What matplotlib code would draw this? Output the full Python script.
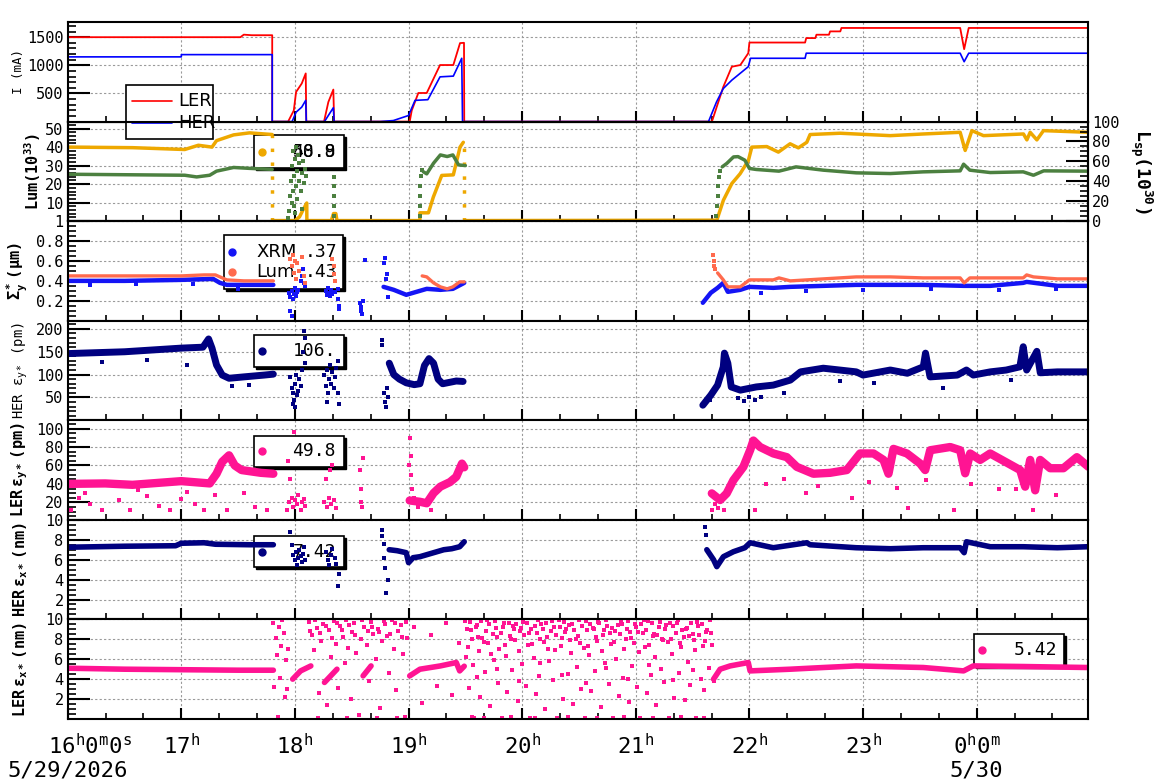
import matplotlib
matplotlib.use('Agg')
import matplotlib.pyplot as plt
import matplotlib.transforms as mtransforms
from matplotlib.patches import Rectangle
from matplotlib.ticker import FixedLocator, MultipleLocator

nan = float('nan')

# time axis in hours, 16.0 = 16:00 on 5/29
hour_ticks = [16, 17, 18, 19, 20, 21, 22, 23, 24]
hour_labels = ['$16^{h}0^{m}0^{s}$', '$17^{h}$', '$18^{h}$', '$19^{h}$', '$20^{h}$',
               '$21^{h}$', '$22^{h}$', '$23^{h}$', '$0^{h}0^{m}$']
date_ticks = [16, 24]
date_labels = ['5/29/2026', '5/30']

# panel 1 : beam currents (mA)
ler_t = [16.0, 17.52, 17.55, 17.62, 17.80, 17.80, 17.94, 17.99, 18.01, 18.06, 18.095, 18.10,
         18.256, 18.294, 18.338, 18.345, 19.01, 19.028, 19.086, 19.16, 19.277, 19.394, 19.453,
         19.488, 19.49, 21.67, 21.77, 21.845, 21.92, 21.99, 22.0, 22.49, 22.50, 22.58, 22.59,
         22.70, 22.71, 22.80, 22.81, 23.855, 23.89, 23.93, 24.98]
ler_i = [1500, 1500, 1545, 1535, 1535, 0, 0, 197, 526, 677, 856, 0,
         0, 347, 569, 0, 0, 197, 508, 508, 1005, 1005, 1395,
         1400, 0, 0, 616, 975, 1005, 1215, 1405, 1405, 1484, 1484, 1544,
         1544, 1603, 1603, 1664, 1664, 1287, 1664, 1664]
her_t = [16.0, 17.0, 17.0, 17.80, 17.80, 17.975, 18.01, 18.06, 18.095, 18.10, 18.26, 18.294,
         18.338, 18.345, 18.75, 18.866, 19.0, 19.057, 19.17, 19.277, 19.394, 19.468, 19.475, 21.64,
         21.71, 21.77, 21.845, 21.99, 22.01, 22.49, 22.50, 23.855, 23.89, 23.93, 24.98]
her_i = [1150, 1150, 1190, 1190, 0, 0, 167, 257, 377, 0, 0, 108,
         246, 0, 0, 18, 108, 377, 389, 795, 808, 1125, 0, 0,
         347, 587, 736, 975, 1125, 1125, 1215, 1215, 1064, 1215, 1215]

# panel 2 : luminosity (left, 1e33) and specific luminosity (right, 1e30)
lum_t = [16.0, 16.57, 17.03, 17.15, 17.27, 17.31, 17.46, 17.6, 17.8, nan, 17.8, 18.0, 18.04,
         18.07, 18.104, 18.105, 18.32, 18.34, 18.36, 18.37, 19.10, 19.10, 19.175, 19.218,
         19.292, 19.394, 19.453, 19.482, nan, 19.497, 21.713, 21.771, 21.845, 21.918, 21.991,
         22.021, 22.153, 22.255, 22.358, 22.431, 22.505, 22.534, 22.798, 23.239, 23.532,
         23.855, 23.899, 23.958, 24.06, 24.412, 24.442, 24.471, 24.53, 24.588, 24.984]
lum_v = [40.0, 39.7, 38.7, 41.0, 40.0, 43.5, 46.6, 47.7, 46.8, nan, 0.3, 0.3, 2.3,
         5.9, 9.8, 0.3, 0.3, 4.1, 4.1, 0.3, 0.3, 4.5, 4.5, 13.0,
         24.7, 25.0, 40.0, 42.6, nan, 0.3, 0.5, 11.3, 20.3, 25.6, 32.8,
         40.0, 40.3, 37.3, 41.8, 39.6, 42.6, 46.8, 47.5, 46.2, 47.1,
         48.0, 38.2, 48.9, 46.2, 47.1, 43.9, 48.0, 43.9, 48.9, 48.0]
lum_drop_t = [17.8, 19.49]
lum_drop_top = [46.8, 42.6]
lsp_t = [16.0, 17.03, 17.135, 17.25, 17.31, 17.46, 17.6, 17.8, nan, 19.13, 19.16, 19.22, 19.28,
         19.34, 19.39, 19.44, 19.50, nan, 21.76, 21.80, 21.86, 21.90, 21.96, 22.0, 22.06, 22.26,
         22.41, 22.65, 22.94, 23.24, 23.53, 23.855, 23.885, 23.94, 24.12, 24.41, 24.50, 24.59, 24.98]
lsp_v = [47.1, 46.1, 44.4, 46.1, 50.2, 53.9, 53.0, 52.0, nan, 49.6, 47.5, 58.2, 66.5,
         64.9, 66.5, 56.5, 55.8, nan, 54.5, 57.9, 64.5, 64.8, 61.2, 52.9, 51.9, 50.2,
         54.5, 51.2, 48.5, 47.8, 49.5, 50.5, 57.2, 51.2, 48.8, 49.5, 46.1, 50.5, 50.2]
lsp_dot_t = [17.94, 17.95, 17.96, 17.965, 17.97, 17.975, 17.98, 17.985, 17.99, 17.995, 18.0, 18.0,
             18.005, 18.01, 18.015, 18.02, 18.03, 18.035, 18.04, 18.05, 18.06, 18.06, 18.07, 18.08,
             18.09, 18.1, 18.34, 18.34, 18.34, 18.345, 18.345, 19.10, 19.10, 19.10, 19.105, 19.11,
             19.115, 21.71, 21.715, 21.72, 21.725, 21.73, 21.74]
lsp_dot_v = [3, 10, 25, 40, 18, 55, 30, 70, 45, 15, 62, 8,
             35, 74, 50, 22, 66, 40, 58, 30, 48, 12, 60, 38,
             52, 45, 5, 15, 25, 35, 44, 5, 15, 25, 35, 45,
             51, 5, 15, 25, 35, 44, 50]

# panel 3 : vertical beam size at IP (um)
xrm_t = [16.0, 16.5, 17.0, 17.28, 17.34, 17.4, 17.6, 17.81, nan, 18.78, 18.87, 18.98, 19.07,
         19.16, 19.28, 19.39, 19.49, nan, 21.59, 21.66, 21.72, 21.77, 21.81, 21.92, 22.0, 22.21,
         22.36, 22.65, 22.94, 23.53, 23.885, 24.12, 24.41, 24.44, 24.71, 24.98]
xrm_v = [0.40, 0.40, 0.41, 0.42, 0.38, 0.36, 0.36, 0.36, nan, 0.34, 0.31, 0.26, 0.29,
         0.32, 0.31, 0.32, 0.38, nan, 0.18, 0.28, 0.33, 0.38, 0.29, 0.31, 0.34, 0.33,
         0.34, 0.35, 0.36, 0.36, 0.35, 0.35, 0.38, 0.39, 0.35, 0.35]
siglum_t = [16.0, 16.6, 17.0, 17.2, 17.3, 17.4, 17.55, 17.81, nan, 19.12, 19.16, 19.22, 19.28,
            19.34, 19.39, 19.45, 19.49, nan, 21.72, 21.77, 21.81, 21.92, 22.0, 22.21, 22.26,
            22.36, 22.65, 22.94, 23.24, 23.53, 23.855, 23.89, 23.94, 24.41, 24.44, 24.5, 24.71, 24.98]
siglum_v = [0.45, 0.45, 0.45, 0.46, 0.46, 0.41, 0.40, 0.40, nan, 0.45, 0.44, 0.38, 0.34,
            0.32, 0.34, 0.39, 0.39, nan, 0.48, 0.41, 0.34, 0.34, 0.41, 0.41, 0.43,
            0.40, 0.42, 0.44, 0.44, 0.43, 0.43, 0.38, 0.43, 0.43, 0.46, 0.44, 0.42, 0.42]
xrm_dot_t = [17.95, 17.96, 17.97, 17.98, 17.99, 18.0, 18.01, 18.02, 18.03, 18.05, 18.06, 18.07,
             18.08, 18.09, 17.96, 17.97, 18.27, 18.28, 18.29, 18.3, 18.31, 18.32, 18.33, 18.35,
             18.38, 18.38, 18.385, 18.39, 18.57, 18.58, 18.585, 18.59, 18.6, 18.62, 18.78, 18.79,
             18.8, 18.81, 18.82, 16.2, 16.6, 17.1, 17.5, 22.1, 22.5, 23.0, 23.6, 24.2, 24.7]
xrm_dot_v = [0.28, 0.24, 0.3, 0.22, 0.27, 0.33, 0.25, 0.29, 0.31, 0.4, 0.45, 0.52,
             0.38, 0.35, 0.1, 0.05, 0.3, 0.26, 0.33, 0.28, 0.25, 0.31, 0.27, 0.29,
             0.32, 0.22, 0.15, 0.12, 0.18, 0.1, 0.14, 0.07, 0.2, 0.61, 0.58, 0.63,
             0.42, 0.47, 0.24, 0.36, 0.37, 0.37, 0.32, 0.28, 0.3, 0.31, 0.32, 0.31, 0.32]
siglum_dot_t = [17.96, 17.97, 17.98, 17.99, 18.0, 18.01, 18.02, 18.04, 18.06, 18.08, 18.09,
                18.33, 18.34, 18.345, 18.35, 21.68, 21.685, 21.69, 21.7]
siglum_dot_v = [0.62, 0.55, 0.66, 0.48, 0.6, 0.42, 0.58, 0.5, 0.64, 0.45, 0.38,
                0.62, 0.55, 0.47, 0.4, 0.66, 0.6, 0.55, 0.52]

# panel 4 : HER vertical emittance (pm)
hey_t = [16.0, 16.5, 17.0, 17.19, 17.24, 17.27, 17.31, 17.36, 17.42, 17.55, 17.73, 17.81, nan,
         18.83, 18.87, 18.92, 18.98, 19.05, 19.1, 19.14, 19.18, 19.22, 19.26, 19.3, 19.36, 19.42,
         19.48, nan, 21.59, 21.66, 21.72, 21.77, 21.78, 21.81, 21.84, 21.92, 22.06, 22.21, 22.36,
         22.45, 22.65, 22.94, 23.0, 23.24, 23.39, 23.53, 23.55, 23.59, 23.83, 23.91, 23.97, 24.12,
         24.26, 24.38, 24.41, 24.44, 24.53, 24.56, 24.71, 24.98]
hey_v = [146, 150, 158, 160, 178, 158, 121, 99, 92, 95, 99, 101, nan,
         125, 100, 90, 82, 78, 80, 120, 135, 125, 90, 80, 83, 86,
         85, nan, 33, 55, 77, 117, 147, 125, 73, 66, 73, 77, 88,
         106, 114, 106, 99, 110, 103, 117, 147, 95, 99, 110, 99, 106,
         110, 117, 161, 110, 151, 104, 106, 106]
hey_dot_t = [17.96, 17.97, 17.98, 17.985, 17.99, 18.0, 18.0, 18.01, 18.02, 18.03, 18.04, 18.05,
             18.06, 18.07, 18.08, 18.085, 18.09, 18.26, 18.27, 18.28, 18.28, 18.29, 18.3, 18.31,
             18.32, 18.33, 18.34, 18.35, 18.36, 18.38, 18.38, 18.385, 18.77, 18.77, 18.78, 18.79,
             18.8, 18.81, 18.82, 21.62, 21.65, 21.9, 21.95, 22.0, 22.05, 22.1,
             16.3, 16.7, 17.05, 17.45, 17.6, 22.3, 22.8, 23.1, 23.7, 24.3]
hey_dot_v = [95, 70, 60, 35, 45, 80, 28, 100, 55, 65, 90, 75,
             110, 150, 195, 180, 125, 100, 75, 110, 40, 60, 90, 120,
             80, 105, 70, 95, 115, 130, 60, 35, 175, 165, 60, 40,
             30, 70, 50, 40, 45, 48, 42, 52, 45, 50,
             128, 132, 120, 75, 78, 60, 85, 82, 70, 88]

# panel 5 : LER vertical emittance (pm)
ley_t = [16.0, 16.33, 16.57, 17.0, 17.25, 17.31, 17.36, 17.42, 17.47, 17.53, 17.7, 17.81, nan,
         19.01, 19.1, 19.16, 19.22, 19.28, 19.365, 19.42, 19.47, 19.49, nan,
         21.669, 21.742, 21.80, 21.859, 21.947, 22.006, 22.035, 22.094, 22.211, 22.329, 22.417,
         22.563, 22.71, 22.857, 22.974, 23.092, 23.18, 23.224, 23.268, 23.386, 23.503, 23.547,
         23.591, 23.767, 23.855, 23.899, 23.943, 24.031, 24.119, 24.266, 24.383, 24.427, 24.471,
         24.515, 24.559, 24.647, 24.764, 24.882, 24.984]
ley_v = [40, 40.5, 39, 43, 40.5, 51, 64, 71, 60, 55, 52, 51, nan,
         22, 20.6, 19, 30, 37, 42, 47.7, 62, 58, nan,
         29.7, 22.5, 29.7, 44, 58.5, 76.5, 87, 80, 73, 69, 58.5,
         51, 52, 55, 73, 73, 66, 51, 78, 73, 62, 55,
         76.5, 80, 76.5, 51.5, 73, 66, 73, 63, 55, 37, 66,
         33, 66, 57, 57, 69, 58.5]
ley_dot_t = [16.03, 16.1, 16.15, 16.2, 16.3, 16.45, 16.55, 16.62, 16.7, 16.8, 16.9, 17.0, 17.05,
             17.12, 17.2, 17.3, 17.4, 17.55, 17.65, 17.75, 17.93, 17.95, 17.97, 17.98, 17.99,
             18.0, 18.02, 18.03, 18.05, 18.06, 18.08, 18.09, 17.96, 17.94, 18.26, 18.27, 18.28,
             18.3, 18.31, 18.32, 18.33, 18.34, 18.36, 18.57, 18.58, 18.58, 18.59, 18.6, 19.0,
             19.01, 19.02, 19.02, 19.03, 19.05, 19.08, 19.12, 19.2, 21.67, 21.7, 21.72, 21.75,
             21.78, 22.05, 22.5, 22.9, 23.4, 23.8, 24.2, 24.5,
             22.15, 22.3, 22.6, 23.05, 23.3, 23.55, 23.95, 24.35, 24.7]
ley_dot_v = [12, 25, 30, 18, 12, 22, 12, 33, 27, 16, 12, 24, 31,
             18, 12, 28, 12, 30, 15, 12, 12, 20, 25, 15, 96,
             22, 18, 28, 12, 20, 24, 16, 45, 65, 20, 45, 15,
             25, 55, 18, 60, 22, 14, 55, 35, 20, 15, 68, 60,
             90, 70, 50, 35, 25, 15, 18, 12, 12, 18, 14, 25,
             12, 12, 30, 25, 14, 12, 35, 12,
             40, 45, 38, 42, 36, 44, 40, 35, 28]

# panel 6 : HER horizontal emittance (nm)
hex_t = [16.0, 16.5, 16.95, 17.0, 17.2, 17.3, 17.6, 17.81, nan, 18.83, 18.9, 18.98, 19.0, 19.04,
         19.1, 19.16, 19.25, 19.31, 19.38, 19.45, 19.49, nan, 21.625, 21.684, 21.713, 21.771,
         21.859, 21.96, 22.006, 22.21, 22.505, 22.534, 22.94, 23.24, 23.53, 23.855, 23.89, 23.91,
         24.12, 24.41, 24.71, 24.98]
hex_v = [7.25, 7.35, 7.4, 7.65, 7.7, 7.55, 7.5, 7.5, nan, 7.0, 6.9, 6.7, 5.7, 6.2,
         6.3, 6.5, 6.8, 7.0, 7.1, 7.3, 7.8, nan, 7.0, 6.0, 5.3, 6.3,
         6.8, 7.2, 7.7, 7.2, 7.7, 7.5, 7.2, 7.1, 7.2, 7.2, 6.7, 7.8,
         7.3, 7.3, 7.2, 7.3]
hex_dot_t = [17.96, 17.97, 17.98, 18.0, 18.01, 18.02, 18.03, 18.04, 18.05, 18.06, 18.07, 18.08,
             18.09, 18.27, 18.29, 18.3, 18.32, 18.33, 18.35, 18.36, 18.38, 18.385, 18.77, 18.77,
             18.78, 18.78, 18.79, 18.8, 18.82, 21.61, 21.615]
hex_dot_v = [8.8, 7.5, 6.5, 6.0, 6.8, 5.5, 6.2, 7.0, 6.4, 5.8, 6.6, 7.3,
             6.0, 6.8, 6.0, 5.5, 6.5, 7.1, 6.2, 5.6, 3.4, 4.6, 9.0, 8.4,
             7.6, 6.2, 5.2, 2.7, 4.0, 9.3, 8.5]

# panel 7 : LER horizontal emittance (nm)
lex_t = [16.0, 16.5, 17.0, 17.5, 17.81, nan, 17.98, 18.05, 18.14, nan, 18.26, 18.37, nan,
         18.6, 18.67, nan, 19.01, 19.1, 19.28, 19.42, 19.45, 19.49, nan, 21.684, 21.742, 21.83,
         21.99, 22.006, 22.36, 22.65, 22.94, 23.53, 23.885, 23.97, 24.41, 24.98]
lex_v = [5.1, 5.0, 4.95, 4.9, 4.9, nan, 4.0, 4.83, 5.33, nan, 3.67, 5.0, nan,
         4.33, 5.33, nan, 4.33, 5.0, 5.33, 5.67, 4.83, 5.3, nan, 4.0, 5.0, 5.33,
         5.67, 4.83, 5.0, 5.17, 5.33, 5.17, 4.83, 5.33, 5.27, 5.17]
lex_dots = [
    (17.81, 9.6), (17.82, 3.2), (17.83, 8.1), (17.84, 6.4), (17.85, 0.2), (17.86, 9.2),
    (17.87, 4.1), (17.88, 7.3), (17.89, 9.9), (17.90, 8.6), (17.91, 2.2), (17.92, 5.9),
    (17.93, 3.0), (17.94, 7.0),
    (18.12, 9.7), (18.13, 8.8), (18.15, 8.4), (18.17, 6.9), (18.18, 9.9), (18.19, 9.1),
    (18.20, 0.1), (18.21, 2.6), (18.22, 8.6), (18.23, 7.8), (18.25, 9.5), (18.27, 9.3),
    (18.28, 1.4), (18.30, 8.9), (18.32, 6.2), (18.33, 8.1), (18.34, 9.8), (18.36, 7.5),
    (18.37, 9.6), (18.38, 3.1), (18.40, 9.3), (18.41, 8.9), (18.42, 8.2), (18.44, 5.6),
    (18.45, 9.9), (18.46, 0.1), (18.47, 7.1), (18.48, 9.4), (18.49, 2.0), (18.50, 8.7),
    (18.52, 9.6), (18.53, 8.4), (18.54, 6.6), (18.56, 0.4), (18.58, 8.0), (18.59, 9.9),
    (18.61, 9.2), (18.63, 7.4), (18.64, 8.8), (18.65, 3.8), (18.67, 9.7), (18.68, 9.2),
    (18.69, 8.5), (18.71, 6.0), (18.72, 0.1), (18.73, 9.0), (18.74, 8.7), (18.75, 1.1),
    (18.77, 7.8), (18.78, 9.8), (18.79, 9.5), (18.81, 8.3), (18.83, 4.6), (18.84, 8.5),
    (18.85, 9.9), (18.87, 7.0), (18.88, 9.6), (18.89, 2.9), (18.90, 0.1), (18.91, 8.8),
    (18.93, 9.4), (18.94, 8.2), (18.95, 6.5), (18.97, 0.2), (18.98, 9.7), (18.99, 8.1),
    (19.05, 9.2), (19.12, 1.6), (19.20, 8.4), (19.25, 3.3), (19.33, 9.6), (19.38, 2.4),
    (19.44, 7.6),
    (19.50, 9.8), (19.505, 6.2), (19.51, 9.0), (19.52, 7.2), (19.53, 3.1), (19.54, 9.7),
    (19.55, 8.9), (19.56, 8.0), (19.56, 0.15), (19.57, 5.4), (19.58, 0.1), (19.59, 9.2),
    (19.60, 9.4), (19.60, 4.2), (19.61, 8.2), (19.62, 6.8), (19.63, 2.2), (19.64, 9.8),
    (19.65, 8.1), (19.66, 7.7), (19.66, 0.1), (19.67, 4.7), (19.68, 8.8), (19.69, 9.9),
    (19.70, 7.6), (19.71, 9.5), (19.72, 1.3), (19.73, 6.5), (19.74, 8.5), (19.75, 5.9),
    (19.76, 9.8), (19.77, 9.1), (19.78, 8.2), (19.78, 5.0), (19.79, 3.6), (19.80, 7.0),
    (19.81, 8.6), (19.82, 0.1), (19.83, 9.2), (19.84, 9.6), (19.85, 7.4), (19.86, 6.3),
    (19.87, 2.7), (19.88, 9.6), (19.89, 8.3), (19.90, 8.0), (19.90, 0.15), (19.91, 4.9),
    (19.92, 9.3), (19.93, 9.0), (19.94, 7.9), (19.95, 9.5), (19.96, 1.8), (19.97, 6.8),
    (19.97, 3.8), (19.98, 8.8), (19.99, 9.1), (20.00, 5.5), (20.01, 9.7), (20.02, 8.4),
    (20.03, 3.3), (20.04, 9.6), (20.05, 7.4), (20.06, 8.6), (20.07, 0.1), (20.08, 9.0),
    (20.09, 7.5), (20.10, 6.1), (20.11, 9.3), (20.11, 0.1), (20.12, 2.5), (20.13, 8.6),
    (20.14, 9.9), (20.15, 4.3), (20.16, 8.0), (20.16, 5.6), (20.17, 9.5), (20.18, 9.0),
    (20.19, 7.7), (20.20, 1.0), (20.21, 9.6), (20.22, 8.2), (20.23, 7.0), (20.24, 5.8),
    (20.25, 8.8), (20.26, 9.8), (20.27, 3.9), (20.28, 9.2), (20.29, 6.9), (20.30, 8.4),
    (20.31, 0.1), (20.32, 9.9), (20.33, 9.2), (20.34, 7.3), (20.35, 8.1), (20.35, 4.4),
    (20.36, 2.0), (20.37, 9.7), (20.38, 8.7), (20.39, 9.0), (20.40, 4.5), (20.40, 0.15),
    (20.41, 9.4), (20.42, 7.9), (20.43, 6.6), (20.44, 9.5), (20.45, 1.5), (20.46, 8.9),
    (20.47, 8.0), (20.48, 5.2), (20.49, 8.3), (20.50, 9.9), (20.51, 7.6), (20.52, 3.0),
    (20.53, 9.3), (20.54, 7.1), (20.55, 0.1), (20.56, 9.8), (20.56, 3.6), (20.57, 8.9),
    (20.58, 7.3), (20.59, 6.4), (20.60, 9.5), (20.61, 2.8), (20.62, 9.1), (20.63, 9.0),
    (20.64, 4.8), (20.65, 8.2), (20.66, 7.8), (20.66, 0.1), (20.67, 9.7), (20.68, 9.6),
    (20.69, 1.2), (20.70, 6.8), (20.71, 8.4), (20.72, 8.9), (20.73, 5.6), (20.74, 9.9),
    (20.74, 5.1), (20.75, 9.3), (20.76, 3.5), (20.77, 8.6), (20.78, 7.5), (20.79, 9.1),
    (20.80, 0.1), (20.81, 7.7), (20.82, 8.8), (20.83, 6.0), (20.84, 9.4), (20.85, 2.3),
    (20.86, 8.5), (20.87, 9.7), (20.88, 9.5), (20.89, 4.1), (20.90, 7.0), (20.90, 0.15),
    (20.91, 8.0), (20.92, 9.0), (20.93, 9.8), (20.93, 4.0), (20.94, 1.7), (20.95, 8.7),
    (20.96, 8.1), (20.97, 5.3), (20.98, 7.6), (20.99, 9.5), (21.00, 9.2), (21.01, 3.2),
    (21.02, 8.7), (21.03, 6.7), (21.04, 0.1), (21.05, 9.5), (21.06, 8.6), (21.07, 9.9),
    (21.08, 7.2), (21.09, 8.9), (21.10, 2.6), (21.11, 9.8), (21.12, 7.4), (21.12, 5.4),
    (21.13, 4.4), (21.14, 9.6), (21.15, 8.3), (21.15, 0.1), (21.16, 8.5), (21.17, 6.2),
    (21.18, 1.4), (21.19, 8.4), (21.20, 9.2), (21.21, 9.7), (21.22, 5.0), (21.23, 8.0),
    (21.24, 7.9), (21.25, 3.7), (21.26, 9.0), (21.27, 9.4), (21.28, 7.7), (21.29, 0.1),
    (21.30, 9.6), (21.31, 8.0), (21.32, 6.5), (21.33, 9.3), (21.33, 3.9), (21.34, 2.1),
    (21.35, 8.6), (21.36, 9.6), (21.37, 9.9), (21.38, 4.6), (21.39, 7.6), (21.40, 7.2),
    (21.40, 0.15), (21.41, 8.9), (21.42, 8.2), (21.43, 1.9), (21.44, 9.0), (21.45, 9.1),
    (21.46, 5.7), (21.47, 8.3), (21.48, 3.4), (21.49, 9.6), (21.50, 8.5), (21.50, 4.9),
    (21.51, 7.9), (21.52, 6.9), (21.53, 0.1), (21.54, 9.7), (21.55, 9.3), (21.56, 8.4),
    (21.57, 4.0), (21.58, 9.5), (21.59, 7.3), (21.60, 2.9), (21.60, 0.1), (21.61, 7.8),
    (21.62, 8.7), (21.63, 8.9), (21.64, 5.1), (21.65, 9.9), (21.66, 8.6), (21.67, 7.4),
    (21.69, 3.8),
]

# legend readouts
lum_readouts = ['50.8', '48.9']
sig_readouts = ['.37', '.43']
hey_readout = '106.'
ley_readout = '49.8'
hex_readout = '7.42'
lex_readout = '5.42'

# colours
c_ler, c_her = '#ff0000', '#0000ff'
c_lum, c_lsp = '#eea800', '#4c8040'
c_xrm, c_slum = '#1414f5', '#ff6a4d'
c_navy, c_pink = '#000080', '#ff1493'

plt.rcParams['font.family'] = ['DejaVu Sans Mono', 'DejaVu Sans']
plt.rcParams['mathtext.fontset'] = 'custom'
plt.rcParams['mathtext.rm'] = 'DejaVu Sans Mono'
plt.rcParams['mathtext.it'] = 'DejaVu Sans Mono'
plt.rcParams['mathtext.bf'] = 'DejaVu Sans Mono:bold'
plt.rcParams['lines.solid_capstyle'] = 'round'
plt.rcParams['lines.solid_joinstyle'] = 'round'

fig = plt.figure(figsize=(11.6, 7.82), dpi=100)
L, W = 67.7 / 1160, 1020.3 / 1160
PH = 99.57
axes = []
for i in range(7):
    top = 22 + i * PH
    ax = fig.add_axes([L, 1 - (top + PH) / 782, W, PH / 782])
    axes.append(ax)
ax1, ax2, ax3, ax4, ax5, ax6, ax7 = axes


def style(ax, ylim, ticks, minor, labels=None):
    ax.set_xlim(16.0, 24.98)
    ax.set_ylim(*ylim)
    ax.xaxis.set_major_locator(FixedLocator(hour_ticks))
    ax.xaxis.set_minor_locator(MultipleLocator(1 / 3))
    ax.set_yticks(ticks, labels=labels if labels else [str(t) for t in ticks])
    ax.yaxis.set_minor_locator(MultipleLocator(minor))
    ax.grid(True, which='major', color='#9a9a9a', ls=(0, (2, 2)), lw=0.8)
    ax.set_axisbelow(True)
    ax.tick_params(axis='both', which='both', direction='in', top=False, right=False)
    ax.tick_params(axis='y', which='major', length=16, width=1.5, labelsize=11, pad=3)
    ax.tick_params(axis='y', which='minor', length=6, width=1.2)
    ax.tick_params(axis='x', which='major', length=8, width=1.5, labelbottom=False)
    ax.tick_params(axis='x', which='minor', length=4, width=1.2)
    for s in ax.spines.values():
        s.set_linewidth(1.5)


def leg_box(ax, x0, x1, y0, y1, z, shadow=True):
    if shadow:
        sh = ax.transAxes + mtransforms.ScaledTranslation(0.02, -0.02, fig.dpi_scale_trans)
        ax.add_patch(Rectangle((x0, y0), x1 - x0, y1 - y0, transform=sh, fc='black', ec='black',
                               lw=1, clip_on=False, zorder=z - 0.01))
    ax.add_patch(Rectangle((x0, y0), x1 - x0, y1 - y0, transform=ax.transAxes, fc='white',
                           ec='black', lw=1.2, clip_on=False, zorder=z))


def leg_dot(ax, x, y, color, z):
    ax.plot([x], [y], 'o', ms=5, color=color, transform=ax.transAxes, clip_on=False, zorder=z)


def leg_text(ax, x, y, s, z, ha='right', family='DejaVu Sans Mono'):
    ax.text(x, y, s, transform=ax.transAxes, ha=ha, va='center', fontsize=13,
            family=family, zorder=z)


dot_kw = dict(ls='none', marker='s', ms=2.2, mew=0)

# ---- panel 1
style(ax1, (0, 1770), [500, 1000, 1500], 100)
ax1.plot(ler_t, ler_i, color=c_ler, lw=1.3)
ax1.plot(her_t, her_i, color=c_her, lw=1.2)
ax1.set_zorder(1)
leg_box(ax1, 0.0568, 0.1427, -0.178, 0.368, 2.3, shadow=False)
ax1.plot([0.063, 0.102], [0.207, 0.207], color=c_ler, lw=1.2, transform=ax1.transAxes,
         clip_on=False, zorder=2.4)
ax1.plot([0.063, 0.102], [-0.014, -0.014], color=c_her, lw=1.2, transform=ax1.transAxes,
         clip_on=False, zorder=2.4)
leg_text(ax1, 0.108, 0.207, 'LER', 2.4, ha='left', family='DejaVu Sans')
leg_text(ax1, 0.108, -0.014, 'HER', 2.4, ha='left', family='DejaVu Sans')
ax1.set_ylabel('I (mA)', fontsize=9)
ax1.yaxis.set_label_coords(-0.042, 0.5)

# ---- panel 2
style(ax2, (0, 53.8), [10, 20, 30, 40, 50], 2)
ax2.plot(lum_t, lum_v, color=c_lum, lw=2.5, zorder=2)
ax2.vlines(lum_drop_t, 0.3, lum_drop_top, colors=c_lum, linestyles=(0, (1, 3)), lw=2.5)
ax2r = ax2.twinx()
ax2r.set_ylim(0, 100)
ax2r.set_yticks([0, 20, 40, 60, 80, 100], labels=['0', '20', '40', '60', '80', '100'])
ax2r.yaxis.set_minor_locator(MultipleLocator(5))
ax2r.tick_params(axis='y', which='both', direction='in', left=False, right=True)
ax2r.tick_params(axis='y', which='major', length=16, width=1.5, labelsize=11, pad=3)
ax2r.tick_params(axis='y', which='minor', length=6, width=1.2)
for s in ax2r.spines.values():
    s.set_linewidth(1.5)
ax2r.plot(lsp_t, lsp_v, color=c_lsp, lw=2.5)
ax2r.plot(lsp_dot_t, lsp_dot_v, color=c_lsp, **dot_kw)
leg_box(ax2, 0.183, 0.271, 0.536, 0.865, 0.9)
leg_dot(ax2, 0.190, 0.699, c_lum, 1.0)
for s in lum_readouts:
    leg_text(ax2, 0.263, 0.699, s, 1.0)
ax2.set_ylabel(r'$\mathbf{Lum(10^{33})}$', fontsize=11)
ax2.yaxis.set_label_coords(-0.024, 0.5)
ax2r.set_ylabel(r'$\mathbf{L_{sp}(10^{30})}$', fontsize=13, rotation=270, va='bottom')
ax2r.yaxis.set_label_coords(1.039, 0.5)

# ---- panel 3
style(ax3, (0, 1.0), [0.2, 0.4, 0.6, 0.8, 1.0], 0.05, ['0.2', '0.4', '0.6', '0.8', '1'])
ax3.plot(xrm_t, xrm_v, color=c_xrm, lw=3.2)
ax3.plot(xrm_dot_t, xrm_dot_v, color=c_xrm, **dot_kw)
ax3.plot(siglum_t, siglum_v, color=c_slum, lw=2.4)
ax3.plot(siglum_dot_t, siglum_dot_v, color=c_slum, **dot_kw)
leg_box(ax3, 0.1535, 0.270, 0.318, 0.861, 0.9)
leg_dot(ax3, 0.161, 0.693, c_xrm, 1.0)
leg_dot(ax3, 0.161, 0.486, c_slum, 1.0)
leg_text(ax3, 0.185, 0.693, 'XRM', 1.0, ha='left', family='DejaVu Sans')
leg_text(ax3, 0.185, 0.486, 'Lum', 1.0, ha='left', family='DejaVu Sans')
leg_text(ax3, 0.264, 0.693, sig_readouts[0], 1.0)
leg_text(ax3, 0.264, 0.486, sig_readouts[1], 1.0)
ax3.set_ylabel(r'$\mathbf{Σ_y^*\ (μm)}$', fontsize=11)
ax3.yaxis.set_label_coords(-0.037, 0.5)

# ---- panel 4
style(ax4, (0, 218), [50, 100, 150, 200], 10)
ax4.plot(hey_t, hey_v, color=c_navy, lw=5)
ax4.plot(hey_dot_t, hey_dot_v, color=c_navy, **dot_kw)
leg_box(ax4, 0.183, 0.271, 0.532, 0.857, 0.9)
leg_dot(ax4, 0.190, 0.696, c_navy, 1.0)
leg_text(ax4, 0.263, 0.696, hey_readout, 1.0)
ax4.set_ylabel(r'HER $ε_{y*}$ (pm)', fontsize=10)
ax4.yaxis.set_label_coords(-0.037, 0.5)

# ---- panel 5
style(ax5, (1, 109), [20, 40, 60, 80, 100], 5)
ax5.plot(ley_t, ley_v, color=c_pink, lw=6)
ax5.plot(ley_dot_t, ley_dot_v, color=c_pink, **dot_kw)
leg_box(ax5, 0.183, 0.271, 0.528, 0.846, 0.9)
leg_dot(ax5, 0.190, 0.687, c_pink, 1.0)
leg_text(ax5, 0.263, 0.687, ley_readout, 1.0)
ax5.set_ylabel(r'$\mathbf{LER\ ε_{y*}\ (pm)}$', fontsize=11)
ax5.yaxis.set_label_coords(-0.037, 0.5)

# ---- panel 6
style(ax6, (0, 10), [2, 4, 6, 8, 10], 0.5)
ax6.plot(hex_t, hex_v, color=c_navy, lw=4)
ax6.plot(hex_dot_t, hex_dot_v, color=c_navy, **dot_kw)
leg_box(ax6, 0.183, 0.271, 0.523, 0.841, 0.9)
leg_dot(ax6, 0.190, 0.682, c_navy, 1.0)
leg_text(ax6, 0.263, 0.682, hex_readout, 1.0)
ax6.set_ylabel(r'$\mathbf{HER\ ε_{x*}\ (nm)}$', fontsize=11)
ax6.yaxis.set_label_coords(-0.037, 0.5)

# ---- panel 7
style(ax7, (0, 10), [2, 4, 6, 8, 10], 0.5)
ax7.plot(lex_t, lex_v, color=c_pink, lw=4)
ax7.plot([p[0] for p in lex_dots], [p[1] for p in lex_dots], color=c_pink, **dot_kw)
leg_box(ax7, 0.8885, 0.9765, 0.535, 0.851, 0.9)
leg_dot(ax7, 0.896, 0.69, c_pink, 1.0)
leg_text(ax7, 0.970, 0.69, lex_readout, 1.0)
ax7.set_ylabel(r'$\mathbf{LER\ ε_{x*}\ (nm)}$', fontsize=11)
ax7.yaxis.set_label_coords(-0.037, 0.5)

# time labels
ax7.set_xticks(hour_ticks, labels=[''] + hour_labels[1:])
ax7.tick_params(axis='x', which='major', labelbottom=True, labelsize=16, pad=10)
bt = mtransforms.blended_transform_factory(ax7.transData, ax7.transAxes)
ax7.text(hour_ticks[0], 0, hour_labels[0], fontsize=16, ha='center', va='top',
         transform=bt + mtransforms.ScaledTranslation(0.22, -10 / 72, fig.dpi_scale_trans))
for x, s in zip(date_ticks, date_labels):
    ax7.text(x, 0, s, fontsize=16, ha='center', va='center',
             transform=bt + mtransforms.ScaledTranslation(0, -0.52, fig.dpi_scale_trans))

fig.savefig('out.png', dpi=100, facecolor='white')
